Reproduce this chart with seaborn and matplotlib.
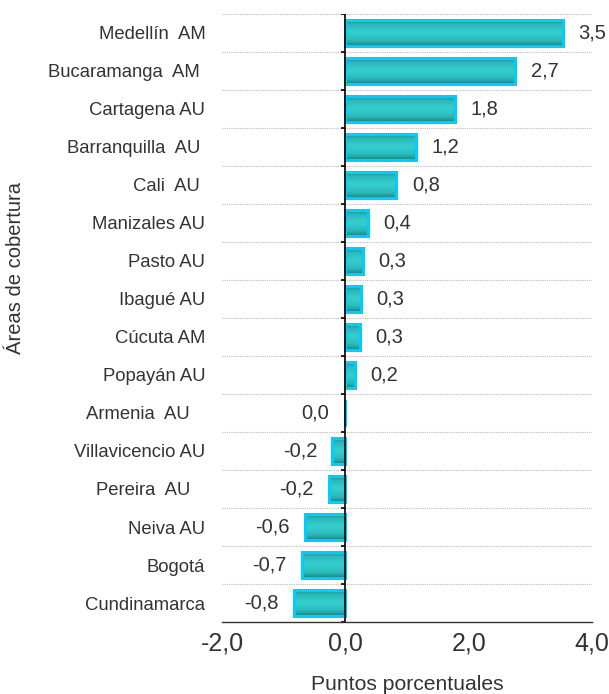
import numpy as np
import pandas as pd
import matplotlib
matplotlib.use("Agg")
import matplotlib.pyplot as plt
from matplotlib.colors import LinearSegmentedColormap
import seaborn as sns

# data
areas = ["Medellín  AM", "Bucaramanga  AM ", "Cartagena AU", "Barranquilla  AU ",
         "Cali  AU ", "Manizales AU", "Pasto AU", "Ibagué AU", "Cúcuta AM",
         "Popayán AU", "Armenia  AU   ", "Villavicencio AU", "Pereira  AU   ",
         "Neiva AU", "Bogotá", "Cundinamarca"]
valores = [3.53, 2.76, 1.78, 1.15, 0.83, 0.36, 0.29, 0.26, 0.24, 0.15,
           -0.01, -0.21, -0.26, -0.65, -0.70, -0.83]
etiquetas = ["3,5", "2,7", "1,8", "1,2", "0,8", "0,4", "0,3", "0,3", "0,3", "0,2",
             "0,0", "-0,2", "-0,2", "-0,6", "-0,7", "-0,8"]
xticks = [-2, 0, 2, 4]
xtick_labels = ["-2,0", "0,0", "2,0", "4,0"]

df = pd.DataFrame({"area": areas, "valor": valores})

sns.set_style("white")
plt.rcParams['font.family'] = ['Liberation Sans', 'DejaVu Sans']
txt = "#333333"

fig = plt.figure(figsize=(6.09, 6.94), dpi=100)
ax = fig.add_axes([0.3645, 0.1037, 0.6075, 0.8763])

sns.barplot(data=df, x="valor", y="area", orient="h", color="#2ec8c8",
            edgecolor="#00ccff", linewidth=2, width=0.7, ax=ax)

# gradient fill inside each bar: dark top/bottom, light centre
cmap = LinearSegmentedColormap.from_list("teal", ["#34cdcd", "#2ab8b8", "#1a8080"])
grad = np.abs(np.linspace(-1, 1, 64)).reshape(-1, 1) ** 1.4
for p in list(ax.patches):
    x0, y0 = p.get_x(), p.get_y()
    w, h = p.get_width(), p.get_height()
    im = ax.imshow(grad, extent=[x0, x0 + w, y0 + h, y0], cmap=cmap, vmin=0, vmax=1,
                   aspect="auto", zorder=p.get_zorder() + 0.1, interpolation="bilinear")
    im.set_clip_path(p)
    edge = plt.Rectangle((x0, y0), w, h, fill=False, edgecolor="#00ccff",
                         linewidth=2.2, zorder=p.get_zorder() + 0.2)
    ax.add_patch(edge)

ax.set_xlim(-2, 4)
ax.set_ylim(len(areas) - 0.5, -0.5)

# value labels
for i, (v, lab) in enumerate(zip(valores, etiquetas)):
    if v >= 0 and lab != "0,0":
        ax.annotate(lab, (v, i), xytext=(11, 0), textcoords="offset points",
                    ha="left", va="center", fontsize=14.5, color=txt)
    else:
        ax.annotate(lab, (min(v, 0), i), xytext=(-11, 0), textcoords="offset points",
                    ha="right", va="center", fontsize=14.5, color=txt)

# dotted separators between categories
bounds = np.arange(-0.5, len(areas), 1.0)
for b in bounds:
    ax.axhline(b, color="#bbbbbb", linestyle=(0, (1, 1)), linewidth=0.8, zorder=0)
ax.axvline(0, color="black", linewidth=1.2, zorder=5)
ax.hlines(bounds, -0.07, 0, color="black", linewidth=1.2, zorder=5)

for s in ["top", "right", "left"]:
    ax.spines[s].set_visible(False)
ax.spines["bottom"].set_color("#333333")
ax.spines["bottom"].set_linewidth(1.0)

ax.set_xticks(xticks)
ax.set_xticklabels(xtick_labels, fontsize=18, color=txt)
ax.tick_params(axis="x", direction="in", length=7, width=1, color="#333333", pad=7)
ax.tick_params(axis="y", length=0, pad=12, labelsize=13.3, labelcolor=txt)

ax.set_xlabel("Puntos porcentuales", fontsize=15.2, color=txt, labelpad=14)
ax.set_ylabel("")
fig.text(0.026, 0.614, "Áreas de cobertura", rotation=90, va="center", ha="center",
         fontsize=14.5, color=txt)

fig.savefig("out.png", dpi=100)
